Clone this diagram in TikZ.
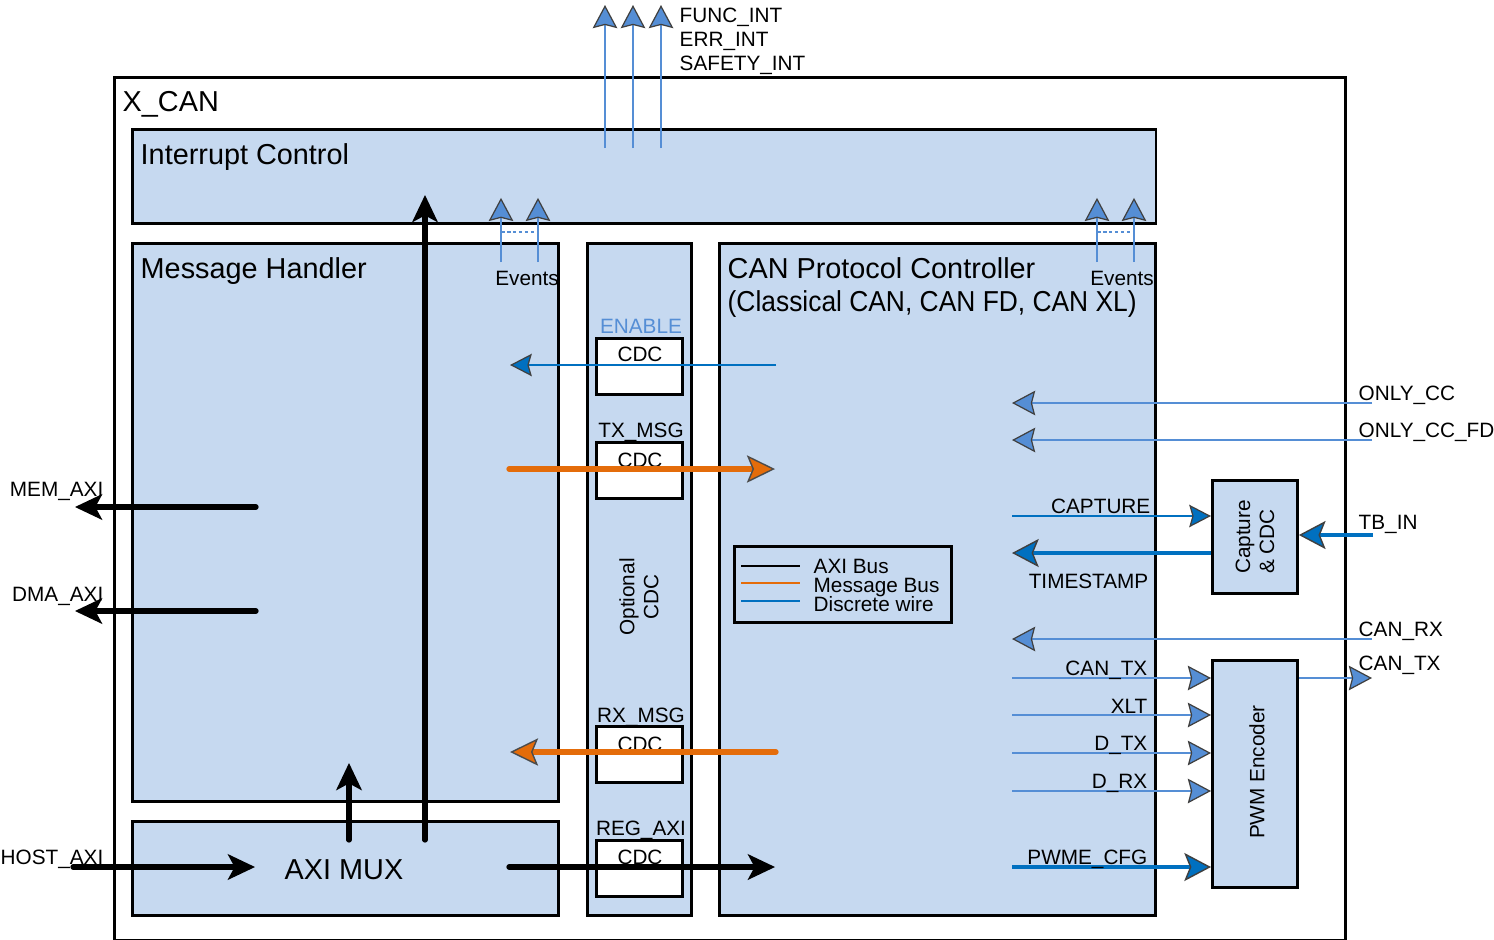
\documentclass[tikz,border=0pt]{standalone}
\usepackage{fontspec}
\setmainfont{Liberation Sans}
\usepackage{graphicx}
\usepackage{tikz}
\usetikzlibrary{arrows.meta}
\usepackage{xcolor}
\definecolor{boxfill}{HTML}{C6D9F0}
\definecolor{sigblue}{HTML}{558ED5}
\definecolor{wireblue}{HTML}{0070C0}
\definecolor{msgorange}{HTML}{E46C0A}

\begin{document}
\begin{tikzpicture}[x=0.01cm, y=-0.01cm,
    blk/.style={rectangle, draw=black, line width=0.8pt, fill=boxfill,
                anchor=north west, inner sep=0pt},
    cdcbox/.style={blk, fill=white, minimum width=0.86cm, minimum height=0.56cm},
    big/.style={font=\fontsize{8.2}{9.8}\selectfont, inner sep=0pt},
    sml/.style={font=\fontsize{5.9}{6.8}\selectfont, inner sep=0pt},
    axibus/.style={draw=black, line width=1.5pt, line cap=round,
                   -{Stealth[length=7.8pt, width=7.4pt, inset=2pt, line width=0.4pt]}},
    msgbus/.style={draw=msgorange, line width=1.5pt, line cap=round,
                   -{Stealth[length=8pt, width=7.8pt, inset=1.6pt, color=black!70,
                             fill=msgorange, line width=0.4pt]}},
    sigwire/.style={draw=sigblue, line width=0.7pt,
                    -{Stealth[length=6.6pt, width=7pt, inset=0.9pt, color=black!75,
                              fill=sigblue, line width=0.35pt]}},
    thinwire/.style={draw=wireblue, line width=0.6pt,
                     -{Stealth[length=6.2pt, width=6.4pt, inset=0.9pt, color=black!75,
                               fill=wireblue, line width=0.35pt]}},
    thickwire/.style={draw=wireblue, line width=1.4pt,
                      -{Stealth[length=7.6pt, width=8pt, inset=1.6pt, color=black!75,
                                fill=wireblue, line width=0.4pt]}},
]
  \useasboundingbox (0,0) rectangle (1494,939);

  % ---- outer block ----
  \node[blk, fill=white, minimum width=12.30cm, minimum height=8.62cm] (xcan) at (113,76) {};
  \node[big, anchor=base west] (xcanlbl) at (122,111) {X\_CAN};

  % ---- main blocks ----
  \node[blk, minimum width=10.23cm, minimum height=0.94cm] (intc) at (131,128) {};
  \node[blk, minimum width=4.26cm, minimum height=5.58cm] (mh) at (131,242) {};
  \node[blk, minimum width=4.26cm, minimum height=0.94cm] (mux) at (131,820) {};
  \node[blk, minimum width=1.04cm, minimum height=6.72cm] (ocdc) at (586,242) {};
  \node[blk, minimum width=4.36cm, minimum height=6.72cm] (cpc) at (718,242) {};
  \node[blk, minimum width=0.85cm, minimum height=1.13cm] (capcdc) at (1211,479) {};
  \node[blk, minimum width=0.85cm, minimum height=2.27cm] (pwm) at (1211,659) {};

  \node[big, anchor=base west] (intclbl) at (140,164) {Interrupt Control};
  \node[big, anchor=base west] (mhlbl)   at (140,278) {Message Handler};
  \node[big, anchor=base]      (muxlbl)  at (344,879) {AXI MUX};
  \node[big, anchor=base west] (cpclbl)  at (727,278) {CAN Protocol Controller};
  \node[big, anchor=base west] (cpcsub)  at (727,311)
    {\scalebox{0.915}[1]{(Classical CAN, CAN FD, CAN XL)}};
  \node[sml, rotate=90, align=center] (ocdclbl) at (639,597) {Optional\\CDC};
  \node[sml, rotate=90, align=left] (capcdclbl) at (capcdc.center) {Capture\\\& CDC};
  \node[sml, rotate=90] (pwmlbl) at (1257,772) {PWM Encoder};

  % ---- CDC cells ----
  \node[cdcbox] (cdcen) at (595,337) {};
  \node[cdcbox] (cdctx) at (595,441) {};
  \node[cdcbox] (cdcrx) at (595,725) {};
  \node[cdcbox] (cdcreg) at (595,839) {};
  \node[sml, anchor=base, text=sigblue] (enlbl) at (641,333) {ENABLE};
  \node[sml, anchor=base] (txlbl)  at (641,437) {TX\_MSG};
  \node[sml, anchor=base] (rxlbl)  at (641,722) {RX\_MSG};
  \node[sml, anchor=base] (reglbl) at (641,835) {REG\_AXI};
  \node[sml, anchor=base] (cdcentxt)  at (640,361) {CDC};
  \node[sml, anchor=base] (cdctxtxt)  at (640,467) {CDC};
  \node[sml, anchor=base] (cdcrxtxt)  at (640,751) {CDC};
  \node[sml, anchor=base] (cdcregtxt) at (640,864) {CDC};

  % ---- legend ----
  \node[blk, minimum width=2.17cm, minimum height=0.76cm] (legend) at (733,545) {};
  \draw[black, line width=0.6pt] (741,566) -- (800,566);
  \draw[msgorange, line width=0.6pt] (741,583) -- (800,583);
  \draw[wireblue, line width=0.6pt] (741,601) -- (800,601);
  \node[sml, anchor=base west] (legaxi) at (813,573) {AXI Bus};
  \node[sml, anchor=base west] (legmsg) at (813,592) {Message Bus};
  \node[sml, anchor=base west] (legwire) at (813,611) {Discrete wire};

  % ---- connector end points ----
  \coordinate (memsrc) at (256,507);  \coordinate (memout) at (75,507);
  \coordinate (dmasrc) at (256,611);  \coordinate (dmaout) at (75,611);
  \coordinate (hostin) at (73,867);   \coordinate (hostdst) at (255,867);
  \coordinate (muxup)  at (349,840);  \coordinate (mhin)   at (349,763);
  \coordinate (muxint) at (425,840);  \coordinate (intin)  at (425,195);
  \coordinate (regsrc) at (509,867);  \coordinate (regdst) at (775,867);
  \coordinate (txsrc)  at (509,469);  \coordinate (txdst)  at (775,469);
  \coordinate (rxsrc)  at (776,752);  \coordinate (rxdst)  at (510,752);
  \coordinate (ensrc)  at (776,365);  \coordinate (endst)  at (510,365);
  \coordinate (funcsrc) at (605,148); \coordinate (funcout) at (605,5);
  \coordinate (errsrc)  at (633,148); \coordinate (errout)  at (633,5);
  \coordinate (safesrc) at (661,148); \coordinate (safeout) at (661,5);
  \coordinate (evma) at (501,262);    \coordinate (evmb) at (538,262);
  \coordinate (evca) at (1097,262);   \coordinate (evcb) at (1134,262);
  \coordinate (onlycc)   at (1372,403); \coordinate (onlyccin)   at (1012,403);
  \coordinate (onlyccfd) at (1372,440); \coordinate (onlyccfdin) at (1012,440);
  \coordinate (capsrc) at (1012,516);
  \coordinate (tbin)   at (1373,535);
  \coordinate (tsdst)  at (1012,553);
  \coordinate (canrx)  at (1372,639); \coordinate (canrxin) at (1012,639);
  \coordinate (cantxsrc) at (1012,678);
  \coordinate (xltsrc)   at (1012,715);
  \coordinate (dtxsrc)   at (1012,753);
  \coordinate (drxsrc)   at (1012,791);
  \coordinate (cfgsrc)   at (1012,867);
  \coordinate (cantxout) at (1372,678);

  % ---- AXI buses ----
  \draw[axibus] (memsrc) -- (memout);
  \draw[axibus] (dmasrc) -- (dmaout);
  \draw[axibus] (hostin) -- (hostdst);
  \draw[axibus] (muxup) -- (mhin);
  \draw[axibus] (muxint) -- (intin);
  \draw[axibus] (regsrc) -- (regdst);

  % ---- message buses ----
  \draw[msgbus] (txsrc) -- (txdst);
  \draw[msgbus] (rxsrc) -- (rxdst);

  % ---- discrete wires ----
  \draw[thinwire] (ensrc) -- (endst);
  \draw[sigwire] (funcsrc) -- (funcout);
  \draw[sigwire] (errsrc) -- (errout);
  \draw[sigwire] (safesrc) -- (safeout);
  \draw[sigwire] (evma) -- (evma |- intc.south) -- ++(0,-27);
  \draw[sigwire] (evmb) -- (evmb |- intc.south) -- ++(0,-27);
  \draw[sigwire] (evca) -- (evca |- intc.south) -- ++(0,-27);
  \draw[sigwire] (evcb) -- (evcb |- intc.south) -- ++(0,-27);
  \draw[sigblue, line width=0.7pt, dash pattern=on 1pt off 0.7pt]
    ([yshift=0.3cm]evma) -- ([yshift=0.3cm]evmb);
  \draw[sigblue, line width=0.7pt, dash pattern=on 1pt off 0.7pt]
    ([yshift=0.3cm]evca) -- ([yshift=0.3cm]evcb);
  \draw[sigwire] (onlycc) -- (onlyccin);
  \draw[sigwire] (onlyccfd) -- (onlyccfdin);
  \draw[thinwire] (capsrc) -- (capsrc -| capcdc.west);
  \draw[thickwire] (tbin) -- (tbin -| capcdc.east);
  \draw[thickwire] (tsdst -| capcdc.west) -- (tsdst);
  \draw[sigwire] (canrx) -- (canrxin);
  \draw[sigwire] (cantxsrc) -- (cantxsrc -| pwm.west);
  \draw[sigwire] (xltsrc) -- (xltsrc -| pwm.west);
  \draw[sigwire] (dtxsrc) -- (dtxsrc -| pwm.west);
  \draw[sigwire] (drxsrc) -- (drxsrc -| pwm.west);
  \draw[thickwire] (cfgsrc) -- (cfgsrc -| pwm.west);
  \draw[sigwire] (cantxout -| pwm.east) -- (cantxout);

  % ---- signal labels ----
  \node[sml, anchor=base west] (funclbl) at (679,22) {FUNC\_INT};
  \node[sml, anchor=base west] (errlbl)  at (679,46) {ERR\_INT};
  \node[sml, anchor=base west] (safelbl) at (679,70) {SAFETY\_INT};
  \node[sml, anchor=base] (evmlbl) at (527,285) {Events};
  \node[sml, anchor=base] (evclbl) at (1122,285) {Events};
  \node[sml, anchor=base east] (memlbl)  at (104,496) {MEM\_AXI};
  \node[sml, anchor=base east] (dmalbl)  at (104,601) {DMA\_AXI};
  \node[sml, anchor=base east] (hostlbl) at (104,864) {HOST\_AXI};
  \node[sml, anchor=base west] (onlycclbl)   at (1358,400) {ONLY\_CC};
  \node[sml, anchor=base west] (onlyccfdlbl) at (1358,437) {ONLY\_CC\_FD};
  \node[sml, anchor=base west] (tbinlbl)     at (1358,529) {TB\_IN};
  \node[sml, anchor=base west] (canrxlbl)    at (1358,636) {CAN\_RX};
  \node[sml, anchor=base west] (cantxolbl)   at (1358,670) {CAN\_TX};
  \node[sml, anchor=base east] (caplbl)   at (1151,513) {CAPTURE};
  \node[sml, anchor=base east] (tslbl)    at (1149,588) {TIMESTAMP};
  \node[sml, anchor=base east] (cantxlbl) at (1148,675) {CAN\_TX};
  \node[sml, anchor=base east] (xltlbl)   at (1148,713) {XLT};
  \node[sml, anchor=base east] (dtxlbl)   at (1148,750) {D\_TX};
  \node[sml, anchor=base east] (drxlbl)   at (1148,788) {D\_RX};
  \node[sml, anchor=base east] (cfglbl)   at (1148,864) {PWME\_CFG};
\end{tikzpicture}
\end{document}
